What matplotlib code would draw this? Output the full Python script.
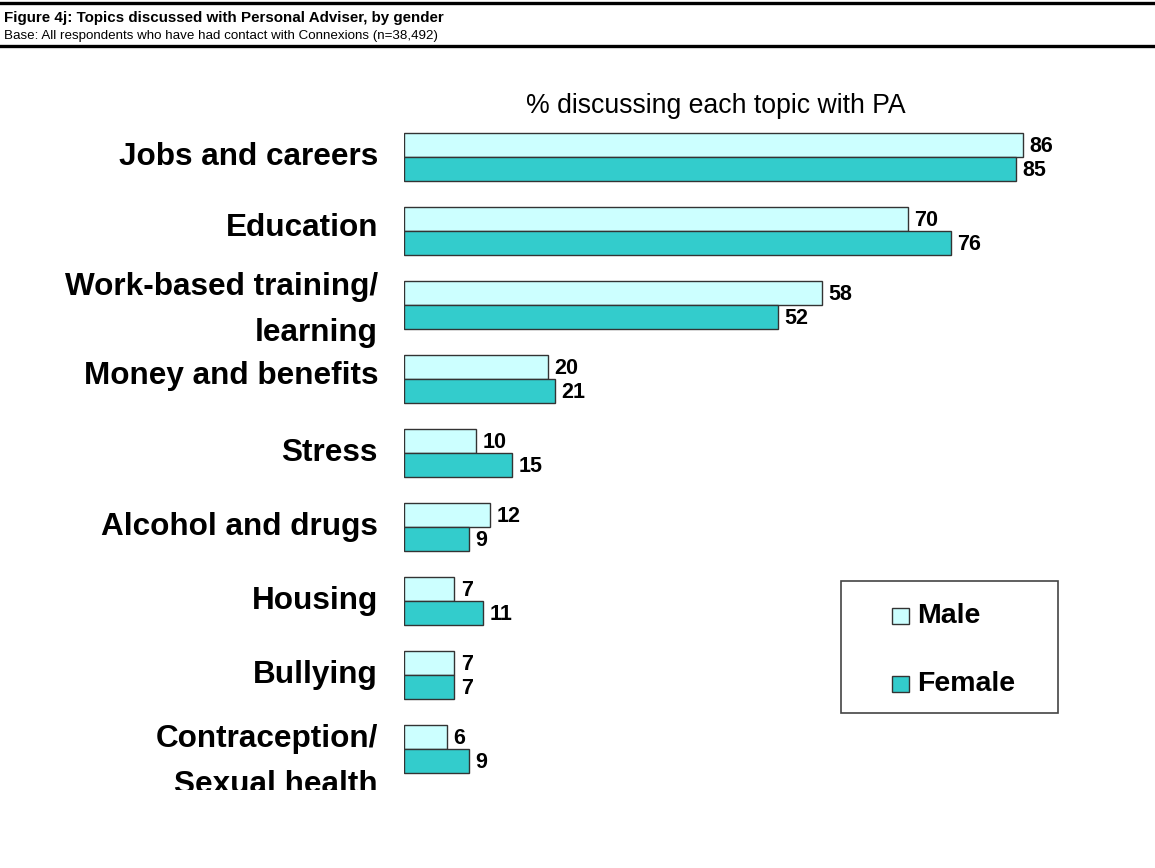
"""Horizontal grouped bars: topics discussed with Personal Adviser, by gender."""

import matplotlib
matplotlib.use("Agg")
import matplotlib.pyplot as plt
from matplotlib.patches import Rectangle
from matplotlib.lines import Line2D
from matplotlib.transforms import Bbox, TransformedBbox
import numpy as np

plt.rcParams["font.family"] = ["Liberation Sans", "DejaVu Sans"]

topics = [
    "Jobs and careers",
    "Education",
    "Work-based training/\nlearning",
    "Money and benefits",
    "Stress",
    "Alcohol and drugs",
    "Housing",
    "Bullying",
    "Contraception/\nSexual health",
]
male = [86, 70, 58, 20, 10, 12, 7, 7, 6]
female = [85, 76, 52, 21, 15, 9, 11, 7, 9]
series_names = ["Male", "Female"]

MALE_COLOR = "#CCFFFF"
FEMALE_COLOR = "#33CCCC"

W, H = 1155, 868
fig = plt.figure(figsize=(W / 100, H / 100), dpi=100)


def fx(px):
    return px / W


def fy(py):
    return 1 - py / H


# header block with rules above and below
fig.add_artist(Line2D([0, 1], [fy(3), fy(3)], color="black", lw=2.4))
fig.add_artist(Line2D([0, 1], [fy(46), fy(46)], color="black", lw=2.4))
fig.text(fx(4), fy(18), "Figure 4j: Topics discussed with Personal Adviser, by gender",
         fontsize=10.9, fontweight="bold", va="center", ha="left")
fig.text(fx(4), fy(36), "Base: All respondents who have had contact with Connexions (n=38,492)",
         fontsize=9.6, va="center", ha="left")
fig.text(fx(716), fy(106), "% discussing each topic with PA",
         fontsize=19.2, va="center", ha="center")

# plot area: 7.2 px per percentage point, 74 px per topic
n = len(topics)
y = np.arange(n)
ax_top, ax_bottom = 157 - 0.7 * 74, 749 + 0.7 * 74
ax = fig.add_axes([fx(404), fy(ax_bottom), fx(720), (ax_bottom - ax_top) / H])
ax.set_xlim(0, 100)
ax.set_ylim(n - 1 + 0.7, -0.7)
ax.axis("off")

h = 0.33
bars_m = ax.barh(y - h / 2, male, height=h, color=MALE_COLOR, edgecolor="#333333",
                 linewidth=1.0, label=series_names[0])
bars_f = ax.barh(y + h / 2, female, height=h, color=FEMALE_COLOR, edgecolor="#333333",
                 linewidth=1.0, label=series_names[1])

for bars, vals in ((bars_m, male), (bars_f, female)):
    for b, v in zip(bars, vals):
        ax.annotate(str(v), (v, b.get_y() + b.get_height() / 2),
                    xytext=(4.5, -1), textcoords="offset points",
                    ha="left", va="center", fontsize=15.5, fontweight="bold")

# category labels, right-aligned left of the bars; the last one runs off the bottom
nudge = [0, -3, 5, -3, 0, 0, 0, 0, 13]
clip = TransformedBbox(Bbox([[0, fy(790)], [1, 1]]), fig.transFigure)
for i, (name, dy) in enumerate(zip(topics, nudge)):
    ypx = 157 + i * 74 + dy
    t = fig.text(fx(378), fy(ypx), name, fontsize=22.7, fontweight="bold",
                 ha="right", va="center", linespacing=1.7, multialignment="right")
    t.set_clip_box(clip)
    t.set_clip_on(True)

# legend in a plain box
fig.add_artist(Rectangle((fx(841), fy(713)), fx(1058 - 841), (713 - 581) / H,
                         facecolor="white", edgecolor="#444444", linewidth=1.2,
                         transform=fig.transFigure))
for ypx, name, color in ((616, series_names[0], MALE_COLOR), (684, series_names[1], FEMALE_COLOR)):
    fig.add_artist(Rectangle((fx(892), fy(ypx + 8)), fx(17), 16 / H, facecolor=color,
                             edgecolor="#333333", linewidth=1.0, transform=fig.transFigure))
    fig.text(fx(917), fy(ypx), name, fontsize=20.5, fontweight="bold", ha="left", va="center")

fig.savefig("out.png", dpi=100)
